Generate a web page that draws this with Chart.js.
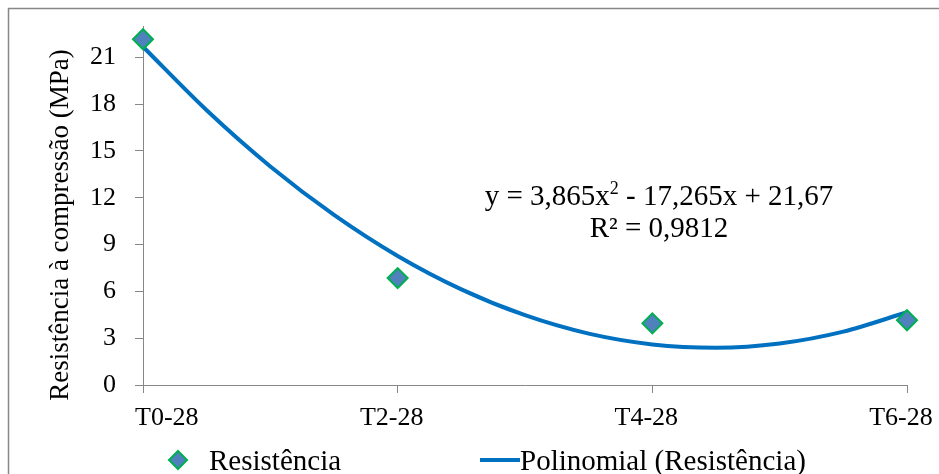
<!DOCTYPE html>
<html>
<head>
<meta charset="utf-8">
<script src="https://cdn.jsdelivr.net/npm/chart.js@4.4.1/dist/chart.umd.min.js"></script>
<style>
  html, body { margin: 0; padding: 0; background: #ffffff; }
  #wrap { width: 939px; height: 474px; position: relative; }
</style>
</head>
<body>
<div id="wrap"><canvas id="myChart"></canvas></div>
<script>
/* dados */
const categorias = ["T0-28", "T2-28", "T4-28", "T6-28"];
const resistencia = [22.15, 6.85, 3.95, 4.15];

// linha de tendência (polinomial), posição em x = índice da categoria
const tendX = [0, 0.25, 0.5, 0.75, 1, 1.25, 1.5, 1.75, 2, 2.25, 2.5, 2.75, 3];
const tendY = [21.67, 17.6, 14.0, 10.9, 8.27, 6.13, 4.47, 3.29, 2.6, 2.39, 2.66, 3.42, 4.66];

const yTicks = [0, 3, 6, 9, 12, 15, 18, 21];

const FONTE = "'Liberation Serif', 'Times New Roman', serif";
const CINZA = "#878787";

/* legenda, borda, título do eixo, rótulos do eixo x e equação */
const extras = {
	id: "extras",
	afterDraw(chart) {
		const ctx = chart.ctx;
		ctx.save();

		// borda externa
		ctx.strokeStyle = CINZA;
		ctx.lineWidth = 1.5;
		ctx.strokeRect(8.5, 8.5, 940, 480);

		// rótulos do eixo x (o primeiro fica deslocado para dentro, como no Excel)
		const sx = chart.scales.x;
		ctx.fillStyle = "#000";
		ctx.font = "26px " + FONTE;
		ctx.textBaseline = "alphabetic";
		categorias.forEach((c, i) => {
			const px = sx.getPixelForValue(i);
			if (i === 0) {
				ctx.textAlign = "left";
				ctx.fillText(c, px - 8, 425);
			} else {
				ctx.textAlign = "center";
				ctx.fillText(c, px - 6, 425);
			}
		});

		// título do eixo y
		ctx.font = "27px " + FONTE;
		ctx.textAlign = "center";
		ctx.translate(68, 225);
		ctx.rotate(-Math.PI / 2);
		ctx.fillText("Resistência à compressão (MPa)", 0, 0);
		ctx.setTransform(1, 0, 0, 1, 0, 0);

		// equação
		ctx.textAlign = "left";
		const p1 = "y = 3,865x";
		const p2 = "2";
		const p3 = " - 17,265x + 21,67";
		ctx.font = "29px " + FONTE;
		const w1 = ctx.measureText(p1).width;
		const w3 = ctx.measureText(p3).width;
		ctx.font = "18px " + FONTE;
		const w2 = ctx.measureText(p2).width;
		let x0 = 659 - (w1 + w2 + w3) / 2;
		ctx.font = "29px " + FONTE;
		ctx.fillText(p1, x0, 205);
		ctx.font = "18px " + FONTE;
		ctx.fillText(p2, x0 + w1, 194);
		ctx.font = "29px " + FONTE;
		ctx.fillText(p3, x0 + w1 + w2, 205);
		ctx.textAlign = "center";
		ctx.fillText("R² = 0,9812", 659, 237);

		// legenda
		const ds0 = chart.data.datasets[0];
		const ds1 = chart.data.datasets[1];
		ctx.fillStyle = ds0.backgroundColor;
		ctx.strokeStyle = ds0.borderColor;
		ctx.lineWidth = 2;
		ctx.beginPath();
		ctx.moveTo(178, 451); ctx.lineTo(187, 460); ctx.lineTo(178, 469); ctx.lineTo(169, 460);
		ctx.closePath();
		ctx.fill(); ctx.stroke();

		ctx.fillStyle = "#000";
		ctx.textAlign = "left";
		ctx.font = "29px " + FONTE;
		ctx.fillText(ds0.label, 209, 470);

		ctx.strokeStyle = ds1.borderColor;
		ctx.lineWidth = 4;
		ctx.beginPath();
		ctx.moveTo(480, 460); ctx.lineTo(520, 460);
		ctx.stroke();
		ctx.fillText(ds1.label, 520, 470);

		ctx.restore();
	}
};

const pontos = resistencia.map((v, i) => ({ x: i, y: v }));
const curva = tendX.map((v, i) => ({ x: v, y: tendY[i] }));

const myChart = new Chart(document.getElementById("myChart").getContext("2d"), {
	type: "scatter",
	data: {
		datasets: [
			{
				label: "Resistência",
				data: pontos,
				pointStyle: "rectRot",
				pointRadius: 10,
				pointHoverRadius: 10,
				backgroundColor: "#4F81BD",
				borderColor: "#00B050",
				borderWidth: 2,
				showLine: false,
				clip: false,
				order: 1
			},
			{
				label: "Polinomial (Resistência)",
				data: curva,
				showLine: true,
				borderColor: "#0070C0",
				borderWidth: 4,
				pointRadius: 0,
				tension: 0.4,
				cubicInterpolationMode: "monotone",
				clip: false,
				order: 2
			}
		]
	},
	options: {
		responsive: true,
		maintainAspectRatio: false,
		animation: false,
		devicePixelRatio: 1,
		layout: { padding: { top: 26, right: 32, bottom: 0, left: 0 } },
		plugins: {
			legend: { display: false },
			tooltip: { enabled: false }
		},
		scales: {
			x: {
				type: "linear",
				min: 0,
				max: 3,
				afterFit: (s) => { s.height = 89; s.paddingLeft = 0; s.paddingRight = 0; },
				afterBuildTicks: (s) => { s.ticks = categorias.map((c, i) => ({ value: i })); },
				grid: { drawOnChartArea: false, drawTicks: true, tickLength: 8, color: CINZA },
				border: { display: true, color: CINZA, width: 1 },
				ticks: {
					display: false
				}
			},
			y: {
				min: 0,
				max: 23,
				afterFit: (s) => { s.width = 143; s.paddingTop = 0; s.paddingBottom = 0; },
				afterBuildTicks: (s) => { s.ticks = yTicks.map((v) => ({ value: v })); },
				grid: { drawOnChartArea: false, drawTicks: true, tickLength: 8, color: CINZA },
				border: { display: true, color: CINZA, width: 1 },
				ticks: {
					color: "#000",
					font: { family: FONTE, size: 26 },
					padding: 19
				}
			}
		}
	},
	plugins: [extras]
});
</script>
</body>
</html>
